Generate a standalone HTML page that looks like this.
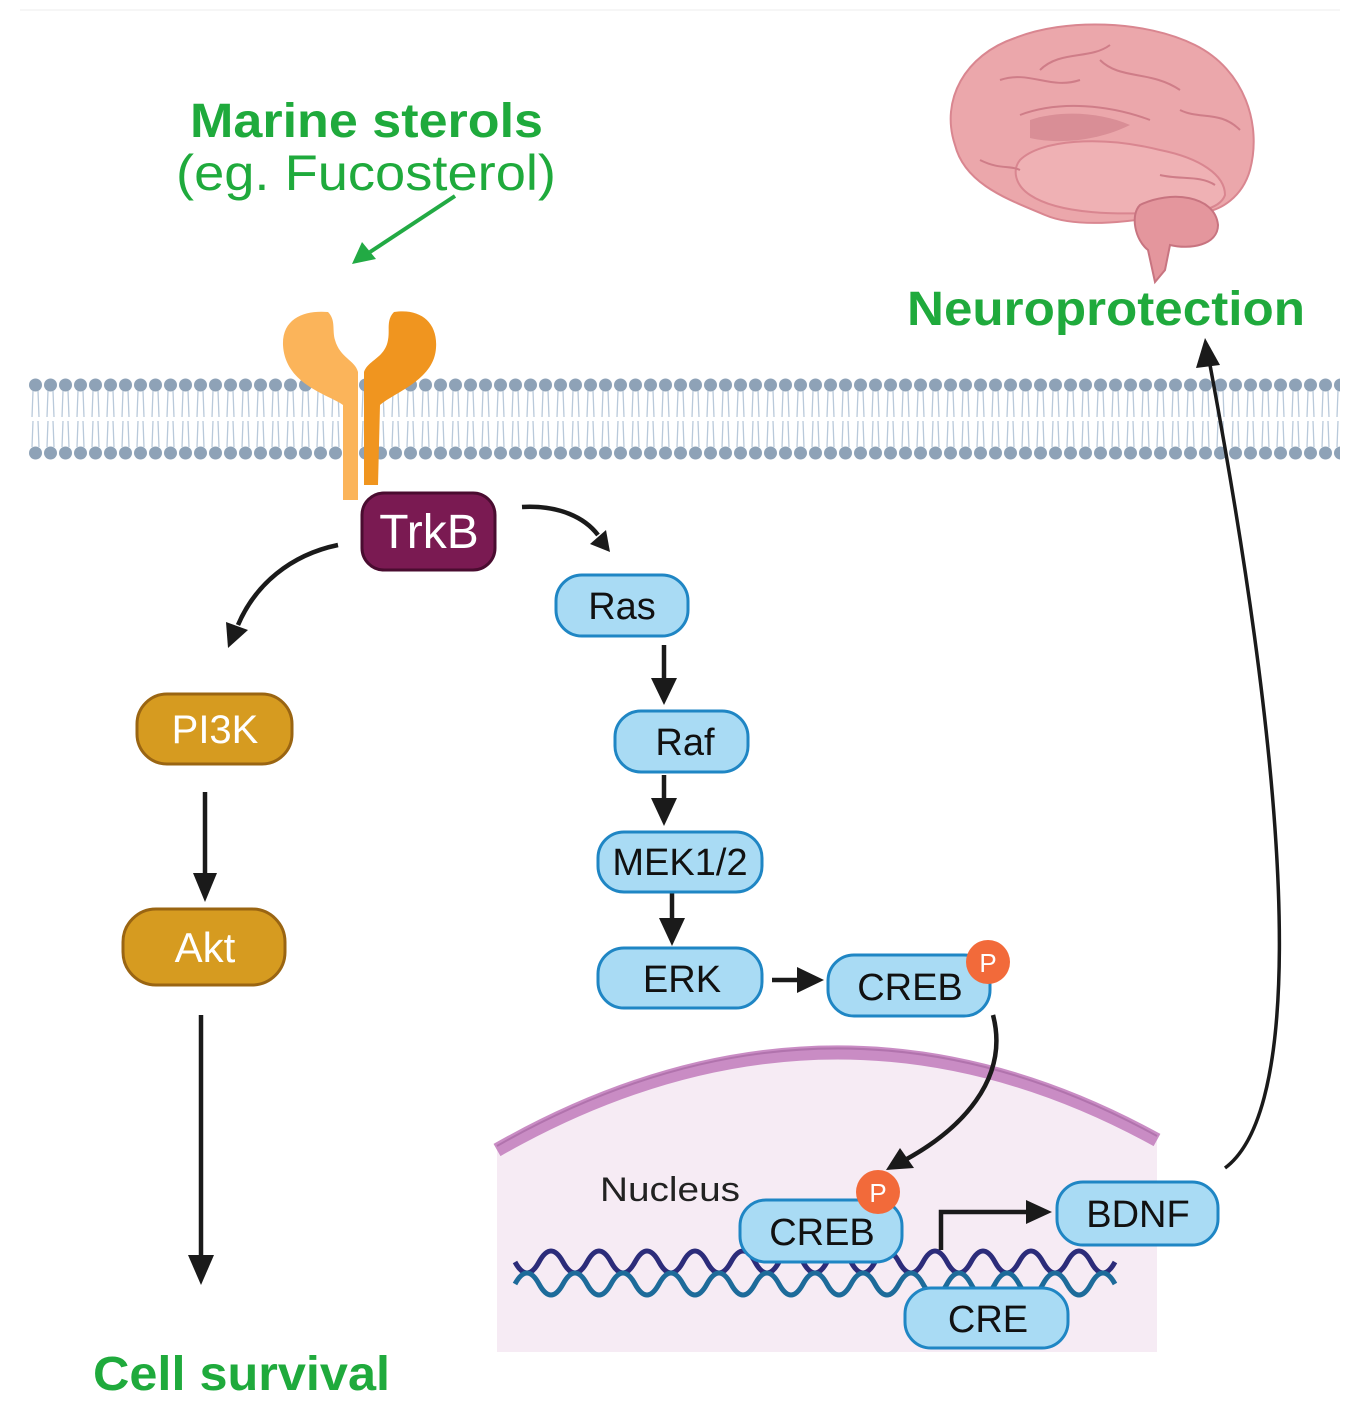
<!DOCTYPE html>
<html><head><meta charset="utf-8"><style>
html,body{margin:0;padding:0;background:#fff}
svg{display:block}
text{font-family:"Liberation Sans",sans-serif}
</style></head><body>
<svg width="1367" height="1416" viewBox="0 0 1367 1416" xmlns="http://www.w3.org/2000/svg">
<defs>
<pattern id="lip" x="28" y="378" width="15" height="82" patternUnits="userSpaceOnUse">
 <circle cx="7.5" cy="7" r="6.5" fill="#8ea2b7"/>
 <circle cx="7.5" cy="75" r="6.5" fill="#8ea2b7"/>
 <path d="M5 13 L4 39 M10 13 L11 39 M5 43 L4 69 M10 43 L11 69" stroke="#b9c9da" stroke-width="1.3" fill="none"/>
</pattern>
</defs>
<line x1="20" y1="10" x2="1340" y2="10" stroke="#eee" stroke-width="1"/>

<!-- membrane -->
<rect x="28" y="378" width="1312" height="82" fill="url(#lip)"/>

<!-- receptor -->
<path d="M343 500 L343 405 C330 395 285 385 283 345 C282 318 305 310 328 312 C336 320 332 330 335 340 C340 358 355 360 358 372 L358 500 Z" fill="#fbb45a"/>
<path d="M364 485 L364 372 C368 360 385 358 388 340 C390 330 386 320 394 312 C420 308 438 322 436 348 C434 380 395 392 380 405 L378 485 Z" fill="#f0951f"/>

<!-- nucleus -->
<rect x="497" y="1040" width="660" height="312" fill="#f6ebf4"/>
<path d="M497 1040 L497 1150 Q830 960 1157 1140 L1157 1040 Z" fill="#fff"/>
<path d="M497 1150 Q830 960 1157 1140" stroke="#c98cc4" stroke-width="14" fill="none"/>
<path d="M497 1146 Q830 956 1157 1136" stroke="#b173ad" stroke-width="2" fill="none"/>

<!-- DNA -->
<path d="M515 1262 q12 22 24 0 t24 0 t24 0 t24 0 t24 0 t24 0 t24 0 t24 0 t24 0 t24 0 t24 0 t24 0 t24 0 t24 0 t24 0 t24 0 t24 0 t24 0 t24 0 t24 0 t24 0 t24 0 t24 0 t24 0 t24 0" stroke="#2c2c7a" stroke-width="5" fill="none"/>
<path d="M515 1284 q12 -22 24 0 t24 0 t24 0 t24 0 t24 0 t24 0 t24 0 t24 0 t24 0 t24 0 t24 0 t24 0 t24 0 t24 0 t24 0 t24 0 t24 0 t24 0 t24 0 t24 0 t24 0 t24 0 t24 0 t24 0 t24 0" stroke="#1d6b9a" stroke-width="5" fill="none"/>

<!-- brain -->
<g>
<path d="M955 145 C940 100 965 55 1015 38 C1065 18 1145 20 1195 45 C1245 70 1262 125 1250 170 C1242 198 1220 210 1205 212 L1170 215 C1140 220 1080 230 1045 215 C1010 200 965 185 955 145 Z" fill="#eba7ab" stroke="#d98690" stroke-width="2"/>
<path d="M1020 160 C1040 140 1100 135 1160 150 C1200 158 1225 175 1225 195 C1220 210 1190 215 1170 212 C1120 215 1060 215 1030 195 C1015 185 1012 170 1020 160 Z" fill="#efb1b4" stroke="#d98690" stroke-width="2"/>
<path d="M1140 205 C1170 190 1215 195 1218 225 C1218 245 1190 250 1170 245 L1165 270 L1155 282 L1148 250 C1135 240 1130 215 1140 205 Z" fill="#e4969d" stroke="#c87480" stroke-width="2"/>
<path d="M1020 115 C1060 100 1110 105 1150 120 M1000 80 C1030 70 1050 90 1080 80 M1100 60 C1120 80 1150 70 1180 90 M980 160 C1000 170 1010 165 1020 170 M1180 110 C1200 120 1220 110 1240 130 M1040 70 C1060 50 1090 60 1110 45 M1160 175 C1180 180 1200 175 1215 185" stroke="#cf7d88" stroke-width="2" fill="none"/>
<path d="M1030 120 C1060 110 1100 112 1130 125 C1100 140 1060 145 1030 138 Z" fill="#d98e96"/>
</g>

<!-- text -->
<text x="190" y="137" font-size="48" font-weight="bold" fill="#1faa3c" textLength="353" lengthAdjust="spacingAndGlyphs">Marine sterols</text>
<text x="176" y="190" font-size="50" fill="#1faa3c" textLength="380" lengthAdjust="spacingAndGlyphs">(eg. Fucosterol)</text>
<text x="907" y="325" font-size="48" font-weight="bold" fill="#1faa3c" textLength="398" lengthAdjust="spacingAndGlyphs">Neuroprotection</text>
<text x="93" y="1390" font-size="48" font-weight="bold" fill="#1faa3c" textLength="297" lengthAdjust="spacingAndGlyphs">Cell survival</text>
<text x="600" y="1201" font-size="34" fill="#222" textLength="140" lengthAdjust="spacingAndGlyphs">Nucleus</text>

<!-- green arrow -->
<line x1="455" y1="196" x2="370" y2="252" stroke="#22aa44" stroke-width="4"/>
<polygon points="352,264 362,242 376,259" fill="#22aa44"/>

<!-- black arrows -->
<g stroke="#1a1a1a" stroke-width="4.5" fill="none">
<path d="M522 507 C560 505 585 518 598 535"/>
<path d="M338 545 C290 555 255 585 238 625"/>
<line x1="205" y1="792" x2="205" y2="875"/>
<line x1="201" y1="1015" x2="201" y2="1258"/>
<line x1="664" y1="645" x2="664" y2="680"/>
<line x1="664" y1="775" x2="664" y2="800"/>
<line x1="672" y1="892" x2="672" y2="920"/>
<line x1="772" y1="980" x2="800" y2="980"/>
<path d="M993 1015 C1010 1080 960 1130 905 1160"/>
<path d="M941 1250 L941 1212 L1030 1212"/>
<path d="M1225 1168 C1290 1120 1310 900 1210 365" stroke-width="3.5"/>
</g>
<g fill="#1a1a1a">
<polygon points="610,552 590,544 606,530"/>
<polygon points="228,648 226,622 248,630"/>
<polygon points="205,902 193,873 217,873"/>
<polygon points="201,1285 188,1255 214,1255"/>
<polygon points="664,705 651,678 677,678"/>
<polygon points="664,826 651,798 677,798"/>
<polygon points="672,946 659,918 685,918"/>
<polygon points="824,980 797,967 797,993"/>
<polygon points="886,1170 900,1148 914,1168"/>
<polygon points="1052,1212 1026,1200 1026,1224"/>
<polygon points="1205,338 1196,368 1220,365"/>
</g>

<!-- nodes -->
<g font-size="36">
<rect x="362" y="493" width="133" height="77" rx="22" fill="#7a1a52" stroke="#4a0c30" stroke-width="3"/>
<text x="429" y="548" font-size="48" fill="#fff" text-anchor="middle">TrkB</text>

<rect x="137" y="694" width="155" height="70" rx="30" fill="#d69b20" stroke="#9a6512" stroke-width="3"/>
<text x="215" y="743" fill="#fff" text-anchor="middle" font-size="40">PI3K</text>
<rect x="123" y="909" width="162" height="76" rx="33" fill="#d69b20" stroke="#9a6512" stroke-width="3"/>
<text x="205" y="962" fill="#fff" text-anchor="middle" font-size="42">Akt</text>

<g fill="#a9dbf4" stroke="#1f86c4" stroke-width="3">
<rect x="556" y="575" width="132" height="61" rx="26"/>
<rect x="615" y="711" width="133" height="61" rx="26"/>
<rect x="598" y="832" width="164" height="60" rx="26"/>
<rect x="598" y="948" width="164" height="60" rx="26"/>
<rect x="828" y="955" width="162" height="61" rx="26"/>
<rect x="740" y="1200" width="162" height="62" rx="26"/>
<rect x="1057" y="1182" width="161" height="63" rx="26"/>
<rect x="905" y="1288" width="163" height="60" rx="26"/>
</g>
<g fill="#111" text-anchor="middle" font-size="38">
<text x="622" y="619">Ras</text>
<text x="685" y="755">Raf</text>
<text x="680" y="875">MEK1/2</text>
<text x="682" y="992">ERK</text>
<text x="910" y="1000">CREB</text>
<text x="822" y="1245">CREB</text>
<text x="1138" y="1227">BDNF</text>
<text x="988" y="1332">CRE</text>
</g>
<circle cx="988" cy="962" r="22" fill="#f26a3a"/>
<text x="988" y="972" font-size="26" fill="#fff" text-anchor="middle">P</text>
<circle cx="878" cy="1192" r="22" fill="#f26a3a"/>
<text x="878" y="1202" font-size="26" fill="#fff" text-anchor="middle">P</text>
</g>
</svg>
</body></html>
